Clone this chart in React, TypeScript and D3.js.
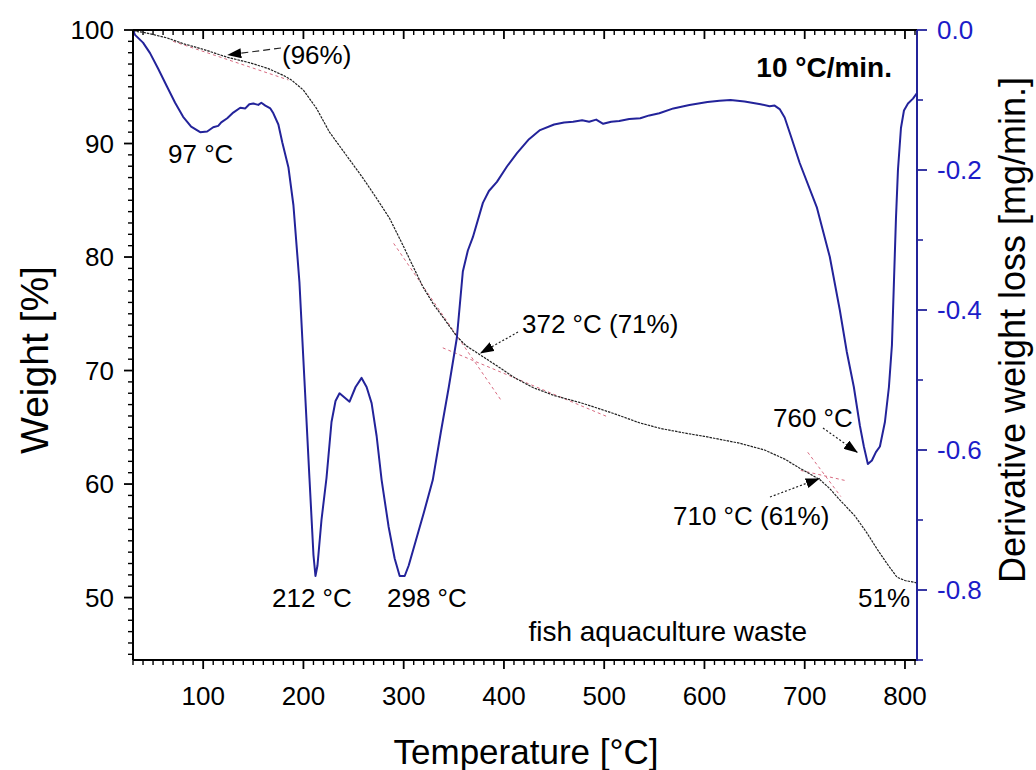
import React from 'react';
import * as d3 from 'd3';

// TG curve: weight [%] vs temperature [°C]
const tgTemp = [30, 40, 50, 64, 80, 100, 124, 147, 165, 180, 188, 196, 200, 213, 226, 240, 259, 272, 286, 300, 313, 319, 330, 340, 353, 362, 376, 395, 410, 429, 450, 479, 510, 535, 556, 580, 600, 635, 660, 680, 695, 705, 715, 725, 735, 750, 762, 772, 782, 792, 800, 812];
const tgWeight = [99.9, 99.8, 99.6, 99.3, 98.8, 98.3, 97.6, 97.1, 96.6, 96.0, 95.6, 95.0, 94.7, 93.1, 91.0, 89.3, 87.0, 85.3, 83.4, 80.9, 78.5, 77.4, 75.8, 74.6, 73.0, 72.2, 71.4, 70.3, 69.4, 68.5, 67.8, 67.1, 66.2, 65.4, 64.9, 64.5, 64.2, 63.6, 63.0, 62.2, 61.4, 60.9, 60.4, 59.6, 58.6, 57.2, 55.7, 54.3, 53.0, 51.8, 51.5, 51.3];

// DTG curve: derivative weight loss [mg/min.]
const dtgTemp = [30, 32, 40, 47, 55, 64, 72, 80, 88, 97, 104, 110, 115, 118, 124, 130, 137, 142, 146, 150, 155, 158, 162, 167, 170, 175, 179, 185, 190, 196, 201, 206, 210, 212, 214, 218, 223, 228, 232, 236, 241, 246, 252, 258, 263, 268, 273, 278, 285, 291, 296, 301, 305, 312, 320, 329, 337, 345, 353, 359, 364, 369, 379, 385, 393, 403, 413, 425, 436, 450, 460, 469, 478, 485, 492, 499, 507, 515, 525, 536, 545, 555, 569, 585, 603, 615, 626, 640, 656, 665, 670, 675, 680, 687, 695, 712, 725, 735, 742, 749, 755, 759, 763, 767, 771, 775, 780, 784, 787, 789, 791, 793, 796, 799, 803, 808, 812];
const dtgRate = [0, -0.007, -0.018, -0.033, -0.055, -0.081, -0.104, -0.124, -0.138, -0.146, -0.145, -0.139, -0.137, -0.132, -0.126, -0.118, -0.111, -0.112, -0.106, -0.105, -0.107, -0.104, -0.108, -0.112, -0.119, -0.135, -0.161, -0.196, -0.25, -0.36, -0.5, -0.64, -0.75, -0.78, -0.765, -0.7, -0.64, -0.56, -0.53, -0.519, -0.525, -0.531, -0.51, -0.497, -0.51, -0.533, -0.58, -0.643, -0.71, -0.755, -0.78, -0.78, -0.765, -0.73, -0.69, -0.643, -0.575, -0.51, -0.44, -0.345, -0.315, -0.296, -0.247, -0.23, -0.217, -0.195, -0.176, -0.156, -0.143, -0.135, -0.132, -0.131, -0.129, -0.131, -0.128, -0.134, -0.131, -0.13, -0.127, -0.126, -0.122, -0.119, -0.112, -0.107, -0.103, -0.101, -0.1, -0.102, -0.106, -0.109, -0.108, -0.113, -0.125, -0.155, -0.19, -0.253, -0.324, -0.4, -0.46, -0.51, -0.565, -0.595, -0.62, -0.615, -0.603, -0.595, -0.56, -0.51, -0.45, -0.36, -0.27, -0.2, -0.14, -0.115, -0.105, -0.098, -0.09];

const xTickValues = [100, 200, 300, 400, 500, 600, 700, 800];
const weightTickValues = [50, 60, 70, 80, 90, 100];
const rateTickValues = [0, -0.2, -0.4, -0.6, -0.8];
const rateTickLabels = ['0.0', '-0.2', '-0.4', '-0.6', '-0.8'];

// onset tangents [T1, w1, T2, w2]
const tangents = [
  [70, 99.0, 185, 95.6],
  [290, 81.2, 397, 67.4],
  [339, 72.0, 504, 65.9],
  [703, 62.8, 736, 58.9],
  [696, 61.2, 741, 60.3],
];

const W = 1036;
const H = 770;
const left = 133, right = 917, top = 30, bottom = 660;
const font = 'Liberation Sans, Arial, Helvetica, sans-serif';
const blue = '#23239a';
const tickBlue = '#1c1cc8';

const x = d3.scaleLinear().domain([30, 812]).range([left, right]);
const yW = d3.scaleLinear().domain([44.5, 100]).range([bottom, top]);
const yR = d3.scaleLinear().domain([-0.9, 0]).range([bottom, top]);

const tgLine = d3.line<number>().x((t) => x(t)).y((_, i) => yW(tgWeight[i]));
const dtgLine = d3.line<number>().x((t) => x(t)).y((_, i) => yR(dtgRate[i]));

const xMinor = d3.range(30, 813, 10).filter((v) => v % 100 !== 0);
const wMinor = d3.range(45, 100, 1).filter((v) => v % 10 !== 0);
const rMinor = [-1, -3, -5, -7, -9].map((v) => v / 10);

const labels = [
  { text: '(96%)', px: 282, py: 64 },
  { text: '97 °C', px: 168, py: 163 },
  { text: '212 °C', px: 272, py: 607 },
  { text: '298 °C', px: 387, py: 607 },
  { text: '372 °C (71%)', px: 522, py: 333 },
  { text: '760 °C', px: 773, py: 427 },
  { text: '710 °C (61%)', px: 673, py: 525 },
  { text: '51%', px: 858, py: 607 },
];

// arrows: tail in px, tip on a curve (temperature, value, which axis)
const arrows = [
  { px: 281, py: 48, t: 124, v: 97.8, axis: 'w', dash: '7,4' },
  { px: 518, py: 332, t: 376, v: 71.5, axis: 'w', dash: '2,2' },
  { px: 770, py: 497, t: 715, v: 60.5, axis: 'w', dash: '2,2' },
  { px: 823, py: 428, t: 753, v: -0.604, axis: 'r', dash: '2,2' },
];

export default function App() {
  return (
    <svg width={W} height={H} style={{ position: 'absolute', left: 0, top: 0, background: '#fff' }} fontFamily={font}>
      <defs>
        <marker id="head" markerUnits="userSpaceOnUse" markerWidth={15} markerHeight={10} refX={14} refY={5} orient="auto">
          <path d="M0,0 L14,5 L0,10 Z" fill="#000" />
        </marker>
      </defs>

      {/* tangents */}
      {tangents.map((d, i) => (
        <line key={i} x1={x(d[0])} y1={yW(d[1])} x2={x(d[2])} y2={yW(d[3])} stroke="#d86a80" strokeWidth={1} strokeDasharray="3,3" />
      ))}

      {/* curves */}
      <path d={tgLine(tgTemp) || ''} fill="none" stroke="#222" strokeWidth={1.2} strokeDasharray="2.5,1" />
      <path d={dtgLine(dtgTemp) || ''} fill="none" stroke={blue} strokeWidth={2} strokeLinejoin="round" />

      {/* frame */}
      <line x1={left} y1={top} x2={right} y2={top} stroke="#000" strokeWidth={2} />
      <line x1={left} y1={bottom} x2={right} y2={bottom} stroke="#000" strokeWidth={2} />
      <line x1={left} y1={top} x2={left} y2={bottom} stroke="#000" strokeWidth={2} />
      <line x1={right} y1={top} x2={right} y2={bottom + 1} stroke={blue} strokeWidth={2} />

      {/* x ticks */}
      {xTickValues.map((v) => (
        <g key={'x' + v}>
          <line x1={x(v)} x2={x(v)} y1={bottom} y2={bottom + 9} stroke="#000" strokeWidth={1.8} />
          <line x1={x(v)} x2={x(v)} y1={top} y2={top + 9} stroke="#000" strokeWidth={1.8} />
          <text x={x(v)} y={705} textAnchor="middle" fontSize={26}>{v}</text>
        </g>
      ))}
      {xMinor.map((v) => (
        <g key={'xm' + v}>
          <line x1={x(v)} x2={x(v)} y1={bottom} y2={bottom + 5} stroke="#000" strokeWidth={1.4} />
          <line x1={x(v)} x2={x(v)} y1={top} y2={top + 5} stroke="#000" strokeWidth={1.4} />
        </g>
      ))}

      {/* left ticks */}
      {weightTickValues.map((v) => (
        <g key={'w' + v}>
          <line x1={left - 9} x2={left} y1={yW(v)} y2={yW(v)} stroke="#000" strokeWidth={1.8} />
          <text x={114} y={yW(v)} dy="0.36em" textAnchor="end" fontSize={26}>{v}</text>
        </g>
      ))}
      {wMinor.map((v) => (
        <line key={'wm' + v} x1={left - 5} x2={left} y1={yW(v)} y2={yW(v)} stroke="#000" strokeWidth={1.4} />
      ))}

      {/* right ticks */}
      {rateTickValues.map((v, i) => (
        <g key={'r' + v}>
          <line x1={right} x2={right + 10} y1={yR(v)} y2={yR(v)} stroke={blue} strokeWidth={1.8} />
          <text x={937} y={yR(v)} dy="0.36em" fontSize={26} fill={tickBlue}>{rateTickLabels[i]}</text>
        </g>
      ))}
      {rMinor.map((v) => (
        <line key={'rm' + v} x1={right} x2={right + 6} y1={yR(v)} y2={yR(v)} stroke={blue} strokeWidth={1.6} />
      ))}

      {/* axis titles */}
      <text x={526} y={764} textAnchor="middle" fontSize={35}>Temperature [°C]</text>
      <text transform="translate(48,360) rotate(-90)" textAnchor="middle" fontSize={39}>Weight [%]</text>
      <text transform="translate(1025,330) rotate(-90)" textAnchor="middle" fontSize={36}>Derivative weight loss [mg/min.]</text>

      {/* annotations */}
      {arrows.map((a, i) => (
        <line key={'a' + i} x1={a.px} y1={a.py} x2={x(a.t)} y2={a.axis === 'w' ? yW(a.v) : yR(a.v)}
          stroke="#222" strokeWidth={1.2} strokeDasharray={a.dash} markerEnd="url(#head)" />
      ))}
      {labels.map((l) => (
        <text key={l.text} x={l.px} y={l.py} fontSize={26}>{l.text}</text>
      ))}
      <text x={892} y={77} textAnchor="end" fontSize={28} fontWeight="bold">10 °C/min.</text>
      <text x={807} y={641} textAnchor="end" fontSize={28}>fish aquaculture waste</text>
    </svg>
  );
}
